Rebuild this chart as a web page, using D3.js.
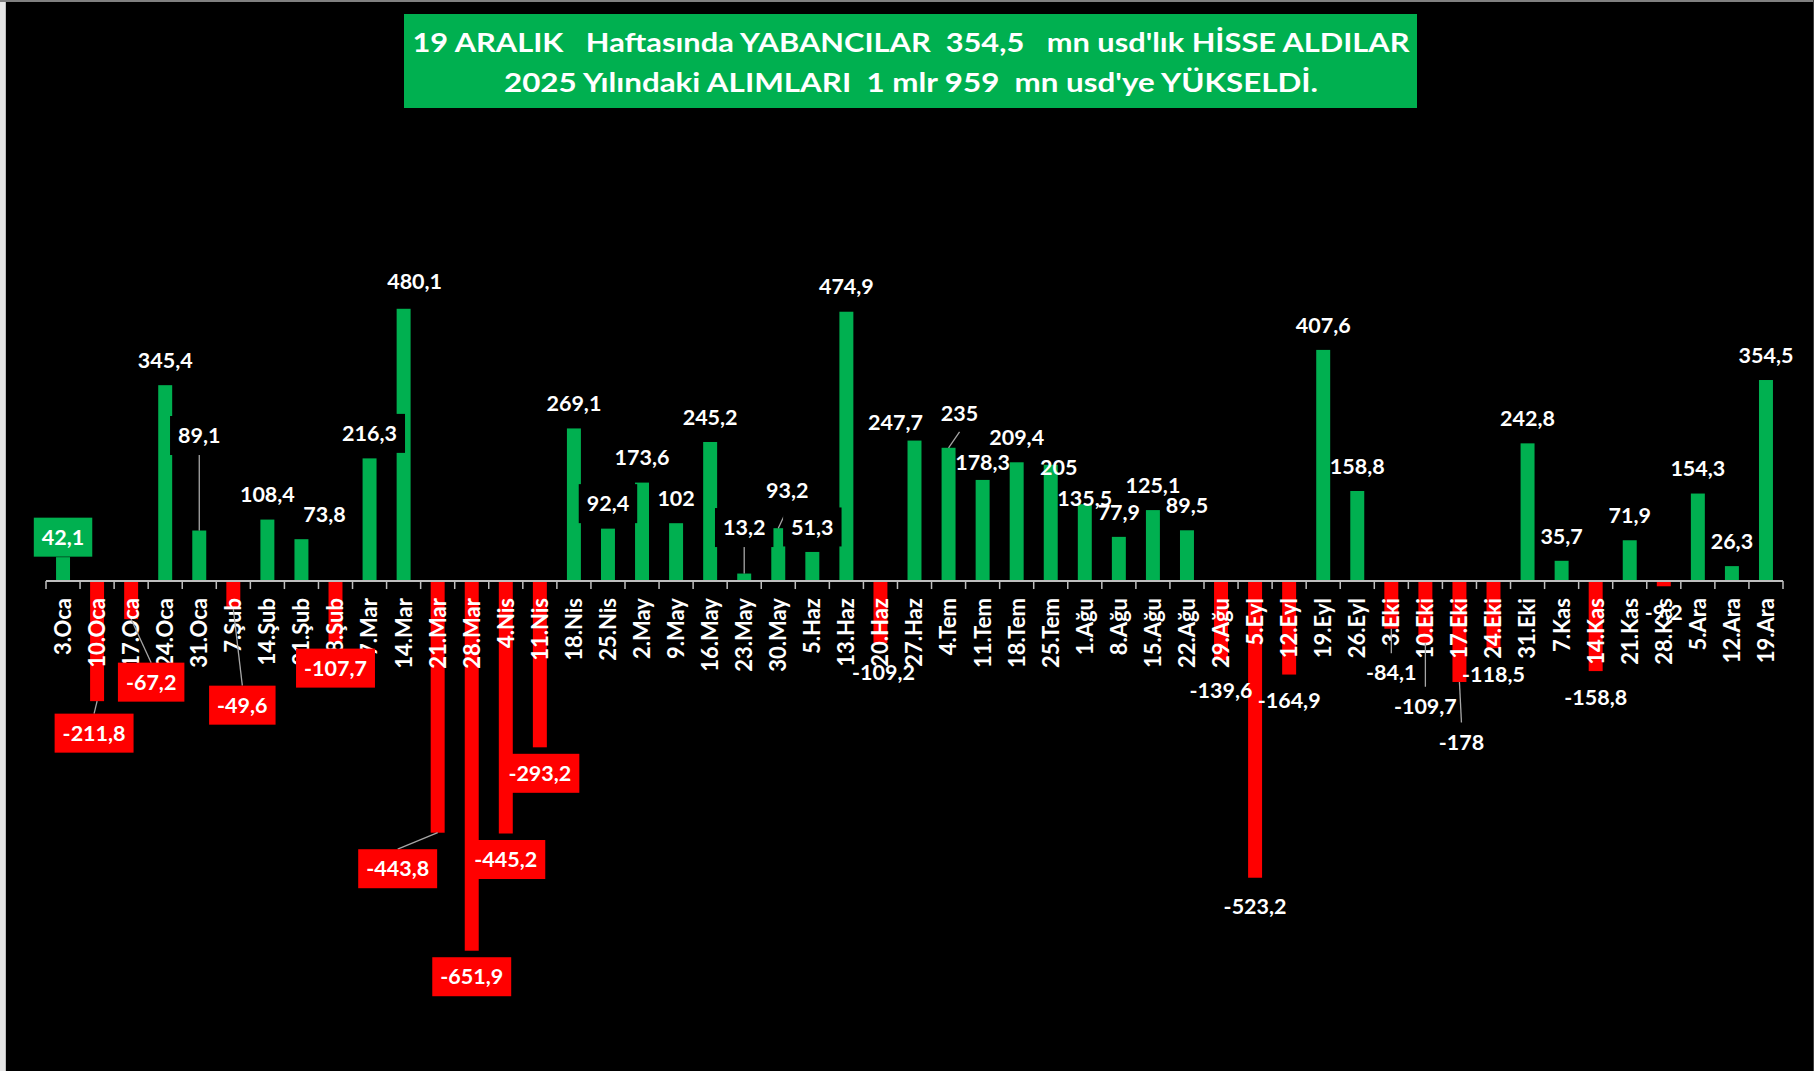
<!DOCTYPE html>
<html>
<head>
<meta charset="utf-8">
<script src="https://cdn.jsdelivr.net/npm/d3@7"></script>
<style>
  html, body { margin: 0; padding: 0; background: #000; }
  svg { display: block; }
  text { font-family: Lato, "Open Sans", sans-serif; font-weight: bold; fill: #fff; }
</style>
</head>
<body>
<svg id="chart" width="1814" height="1071"></svg>
<script>
const weeks = [
  "3.Oca", "10.Oca", "17.Oca", "24.Oca", "31.Oca",
  "7.Şub", "14.Şub", "21.Şub", "28.Şub",
  "7.Mar", "14.Mar", "21.Mar", "28.Mar",
  "4.Nis", "11.Nis", "18.Nis", "25.Nis",
  "2.May", "9.May", "16.May", "23.May", "30.May",
  "5.Haz", "13.Haz", "20.Haz", "27.Haz",
  "4.Tem", "11.Tem", "18.Tem", "25.Tem",
  "1.Ağu", "8.Ağu", "15.Ağu", "22.Ağu", "29.Ağu",
  "5.Eyl", "12.Eyl", "19.Eyl", "26.Eyl",
  "3.Eki", "10.Eki", "17.Eki", "24.Eki", "31.Eki",
  "7.Kas", "14.Kas", "21.Kas", "28.Kas",
  "5.Ara", "12.Ara", "19.Ara"
];

const flows = [
  42.1, -211.8, -67.2, 345.4, 89.1,
  -49.6, 108.4, 73.8, -107.7,
  216.3, 480.1, -443.8, -651.9,
  -445.2, -293.2, 269.1, 92.4,
  173.6, 102, 245.2, 13.2, 93.2,
  51.3, 474.9, -109.2, 247.7,
  235, 178.3, 209.4, 205,
  135.5, 77.9, 125.1, 89.5, -139.6,
  -523.2, -164.9, 407.6, 158.8,
  -84.1, -109.7, -178, -118.5, 242.8,
  35.7, -158.8, 71.9, -9.2,
  154.3, 26.3, 354.5
];

const titleLines = [
  "19 ARALIK   Haftasında YABANCILAR  354,5   mn usd'lık HİSSE ALDILAR",
  "2025 Yılındaki ALIMLARI  1 mlr 959  mn usd'ye YÜKSELDİ."
];

// hand-moved data labels in the original (dx, dy from the default spot)
const labelNudge = {
  "3.Oca": [0, 5],
  "10.Oca": [-3, 6], "17.Oca": [20, 37], "31.Oca": [0, -70], "7.Şub": [9, 70],
  "21.Şub": [23, 0], "14.Mar": [11, -3], "21.Mar": [-40, 10],
  "23.May": [0, -21], "30.May": [9, -13], "20.Haz": [3, 3], "27.Haz": [-19, 7],
  "4.Tem": [11, -10], "11.Tem": [0, 7], "25.Tem": [8, 27], "1.Ağu": [0, 19],
  "29.Ağu": [0, 4], "5.Eyl": [0, 3],
  "3.Eki": [0, 18], "10.Eki": [0, 37], "17.Eki": [2, 34]
};
const labelFill = {
  "3.Oca": "#00B050",
  "10.Oca": "#FF0000", "17.Oca": "#FF0000", "7.Şub": "#FF0000", "28.Şub": "#FF0000",
  "21.Mar": "#FF0000", "28.Mar": "#FF0000", "4.Nis": "#FF0000", "11.Nis": "#FF0000",
  "31.Oca": "#000", "7.Mar": "#000", "25.Nis": "#000", "23.May": "#000", "5.Haz": "#000"
};
const leaderWeeks = ["10.Oca", "17.Oca", "31.Oca", "7.Şub", "21.Mar", "23.May",
  "30.May", "4.Tem", "3.Eki", "10.Eki", "17.Eki"];

const GREEN = "#00B050";
const RED = "#FF0000";
const FS = 21.5;

const svg = d3.select("#chart");
const rows = weeks.map((w, i) => ({ week: w, value: flows[i] }));

// frame edges
svg.append("rect").attr("x", 0).attr("y", 0).attr("width", 5).attr("height", 1071).attr("fill", "#e6e6e6");
svg.append("line").attr("x1", 5.5).attr("x2", 5.5).attr("y1", 0).attr("y2", 1071)
  .attr("stroke", "#bfbfbf").attr("stroke-width", 1);
svg.append("line").attr("x1", 0).attr("x2", 1814).attr("y1", 1).attr("y2", 1)
  .attr("stroke", "#808080").attr("stroke-width", 2);
svg.append("line").attr("x1", 1813.5).attr("x2", 1813.5).attr("y1", 0).attr("y2", 1071)
  .attr("stroke", "#404040").attr("stroke-width", 1);

// title
svg.append("rect")
  .attr("x", 404).attr("y", 14).attr("width", 1013).attr("height", 94)
  .attr("fill", GREEN);
const titleWidths = [997, 814];
svg.selectAll("text.title")
  .data(titleLines)
  .join("text")
  .attr("class", "title")
  .attr("x", 911)
  .attr("y", (d, i) => i === 0 ? 51.5 : 91.5)
  .attr("text-anchor", "middle")
  .attr("font-size", 27.5)
  .attr("textLength", (d, i) => titleWidths[i])
  .attr("lengthAdjust", "spacingAndGlyphs")
  .style("white-space", "pre")
  .text(d => d);

// scales
const x = d3.scaleBand()
  .domain(weeks)
  .range([46, 1783])
  .paddingInner(0.59)
  .paddingOuter(0.295);

const y = d3.scaleLinear()
  .domain([-700, 500])
  .range([978, 297.5]);

const y0 = y(0);

// bars
svg.append("g")
  .selectAll("rect")
  .data(rows)
  .join("rect")
  .attr("x", d => x(d.week))
  .attr("width", x.bandwidth())
  .attr("y", d => d.value >= 0 ? y(d.value) : y0)
  .attr("height", d => Math.abs(y(d.value) - y0))
  .attr("fill", d => d.value >= 0 ? GREEN : RED);

// category axis: labels from d3.axisBottom, boundary ticks drawn by hand
const axisG = svg.append("g")
  .attr("transform", `translate(0,${y0})`)
  .call(d3.axisBottom(x).tickSize(0).tickPadding(0));
axisG.select(".domain").remove();
axisG.selectAll(".tick text")
  .attr("font-family", "Lato, 'Open Sans', sans-serif")
  .attr("font-size", 22)
  .attr("font-weight", "bold")
  .attr("fill", "#fff")
  .attr("text-anchor", "end")
  .attr("transform", "rotate(-90)")
  .attr("x", -17)
  .attr("y", 0)
  .attr("dy", "0.36em");

const step = x.step();
const x0 = x.range()[0];
const bounds = d3.range(weeks.length + 1).map(i => x0 + i * step);
svg.append("line")
  .attr("x1", bounds[0]).attr("x2", bounds[bounds.length - 1])
  .attr("y1", y0).attr("y2", y0)
  .attr("stroke", "#bfbfbf").attr("stroke-width", 2);
svg.append("g")
  .selectAll("line")
  .data(bounds)
  .join("line")
  .attr("x1", d => d).attr("x2", d => d)
  .attr("y1", y0).attr("y2", y0 + 8)
  .attr("stroke", "#bfbfbf").attr("stroke-width", 1.5);

// data label positions
const fmt = v => String(v).replace(".", ",");
rows.forEach(d => {
  const nudge = labelNudge[d.week] || [0, 0];
  d.cx = x(d.week) + x.bandwidth() / 2;
  d.end = y(d.value);
  d.lx = d.cx + nudge[0];
  d.ly = (d.value >= 0 ? d.end - 25 : d.end + 26) + nudge[1];
});

// leader lines
svg.append("g")
  .selectAll("line")
  .data(rows.filter(d => leaderWeeks.includes(d.week)))
  .join("line")
  .attr("x1", d => d.cx)
  .attr("y1", d => d.end)
  .attr("x2", d => d.lx)
  .attr("y2", d => d.value >= 0 ? d.ly + 19 : d.ly - 19.5)
  .attr("stroke", "#a6a6a6")
  .attr("stroke-width", 1.3);

// data labels
const labels = svg.append("g")
  .selectAll("g")
  .data(rows)
  .join("g");

labels.append("rect")
  .attr("fill", d => labelFill[d.week] || "none");

labels.append("text")
  .attr("x", d => d.lx)
  .attr("y", d => d.ly)
  .attr("dy", "0.36em")
  .attr("text-anchor", "middle")
  .attr("font-size", FS)
  .text(d => fmt(d.value));

labels.each(function(d) {
  const g = d3.select(this);
  const w = g.select("text").node().getComputedTextLength();
  g.select("rect")
    .attr("x", d.lx - w / 2 - 8)
    .attr("y", d.ly - 19.5)
    .attr("width", w + 16)
    .attr("height", 39);
});
</script>
</body>
</html>
